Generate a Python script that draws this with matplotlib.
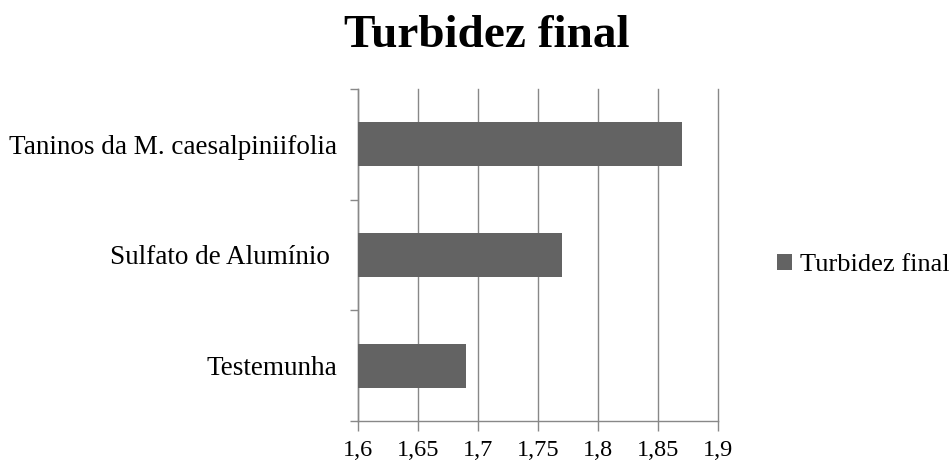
import matplotlib.pyplot as plt
from matplotlib.ticker import FixedLocator, FuncFormatter

plt.rcParams['font.family'] = ['Liberation Serif', 'DejaVu Serif']

# dados
categorias = ['Testemunha', 'Sulfato de Alumínio ', 'Taninos da M. caesalpiniifolia']
turbidez = [1.69, 1.77, 1.87]
ticks_x = [1.6, 1.65, 1.7, 1.75, 1.8, 1.85, 1.9]

cor_barra = '#636363'
cor_linha = '#888888'

fig = plt.figure(figsize=(9.49, 4.66), dpi=100)
ax = fig.add_axes([0.3769, 0.0966, 0.7566 - 0.3769, 0.809 - 0.0966])

pos = list(range(len(categorias)))
ax.barh(pos, [v - 1.6 for v in turbidez], left=1.6, height=0.4,
        color=cor_barra, label='Turbidez final', zorder=3)

ax.set_xlim(1.6, 1.9)
ax.set_ylim(-0.5, len(categorias) - 0.5)
ax.set_xticks(ticks_x)
ax.xaxis.set_major_formatter(FuncFormatter(lambda v, p: ('%g' % round(v, 2)).replace('.', ',')))
ax.set_yticks(pos)
ax.set_yticklabels(categorias)
ax.yaxis.set_minor_locator(FixedLocator([i - 0.5 for i in range(len(categorias) + 1)]))

ax.tick_params(axis='y', which='major', length=0, pad=15, labelsize=19.5)
ax.tick_params(axis='y', which='minor', length=6, color=cor_linha, width=1)
ax.tick_params(axis='x', length=7, color=cor_linha, width=1, labelsize=17.5, pad=7)

ax.grid(axis='x', color=cor_linha, linewidth=1, zorder=0)
for gl in ax.get_xgridlines():
    gl.set_clip_on(False)
for s in ['top', 'right']:
    ax.spines[s].set_visible(False)
for s in ['left', 'bottom']:
    ax.spines[s].set_color(cor_linha)
    ax.spines[s].set_linewidth(1)

fig.text(0.513, 0.922, 'Turbidez final', ha='center', va='center',
         fontsize=34, fontweight='bold')

ax.legend(loc='center left', bbox_to_anchor=(1.098, 0.47), frameon=False,
          fontsize=19, handlelength=0.55, handleheight=0.55, handletextpad=0.3)

fig.savefig('out.png', dpi=100)
